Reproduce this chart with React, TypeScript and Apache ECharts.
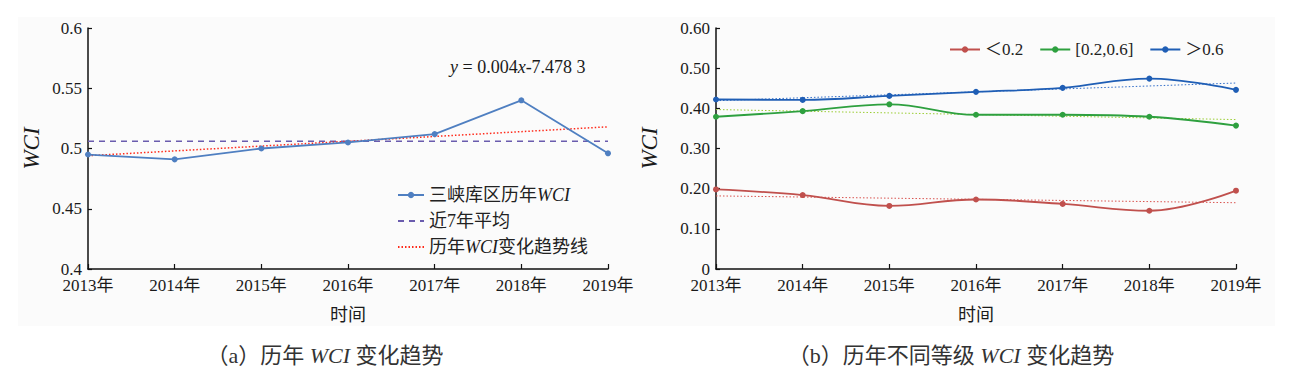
import React, { useEffect, useRef } from "react";
import * as echarts from "echarts";

const years = ["2013年", "2014年", "2015年", "2016年", "2017年", "2018年", "2019年"];

// (a) annual WCI
const wciAnnual = [0.495, 0.491, 0.5, 0.505, 0.512, 0.54, 0.496];
const wciAverage = [0.506, 0.506, 0.506, 0.506, 0.506, 0.506, 0.506];
const wciTrend = [0.494, null, null, null, null, null, 0.518];

// (b) WCI by grade
const lowValues = [0.198, 0.184, 0.157, 0.173, 0.162, 0.145, 0.195];
const midValues = [0.379, 0.393, 0.41, 0.384, 0.384, 0.379, 0.357];
const highValues = [0.422, 0.421, 0.431, 0.441, 0.451, 0.474, 0.446];
const lowTrend = [0.182, null, null, null, null, null, 0.165];
const midTrend = [0.397, null, null, null, null, null, 0.372];
const highTrend = [0.419, null, null, null, null, null, 0.463];

const namesA = ["三峡库区历年WCI", "近7年平均", "历年WCI变化趋势线"];
const namesB = ["＜0.2", "[0.2,0.6]", "＞0.6"];

const FONT = "'Liberation Serif', 'Noto Sans CJK SC', serif";
const TXT = "#1a1a1a";

export default function App() {
  const ref = useRef<HTMLDivElement>(null);
  useEffect(() => {
    if (!ref.current) return;
    const chart = echarts.init(ref.current, undefined, { renderer: "svg" });
    const italic = { fontStyle: "italic", fontFamily: FONT, color: TXT };
    const xAxisBase = (gridIndex: number) => ({
      type: "category",
      gridIndex,
      data: years,
      boundaryGap: false,
      name: "时间",
      nameLocation: "middle",
      nameGap: 37,
      nameTextStyle: { fontSize: 18, fontFamily: FONT, color: TXT },
      axisLine: { lineStyle: { color: "#111", width: 1.5 } },
      axisTick: { inside: true, length: 5, lineStyle: { color: "#111", width: 1.2 } },
      axisLabel: { fontSize: 17, fontFamily: FONT, color: TXT, margin: 8 },
      splitLine: { show: false },
    });
    const yAxisBase = (gridIndex: number) => ({
      type: "value",
      gridIndex,
      name: "WCI",
      nameLocation: "middle",
      nameTextStyle: { fontSize: 23, fontStyle: "italic", fontFamily: FONT, color: TXT },
      axisLine: { show: true, lineStyle: { color: "#111", width: 1.5 } },
      axisTick: { show: true, inside: true, length: 4, lineStyle: { color: "#111", width: 1.2 } },
      splitLine: { show: false },
    });
    const noSym = { itemStyle: { opacity: 0 } };
    chart.setOption({
      animation: false,
      backgroundColor: "#ffffff",
      textStyle: { fontFamily: FONT },
      graphic: [
        {
          type: "rect",
          z: -100,
          silent: true,
          shape: { x: 10, y: 9, width: 1257, height: 309 },
          style: { fill: "#fbfbfb" },
        },
        {
          type: "text",
          x: 442,
          y: 59,
          style: {
            text: "{i|y} = 0.004{i|x}-7.478 3",
            fontSize: 18,
            fontFamily: FONT,
            fill: TXT,
            verticalAlign: "middle",
            rich: { i: { fontStyle: "italic", fontSize: 18, fontFamily: FONT } },
          },
        },
        {
          type: "text",
          x: 317,
          y: 347,
          style: {
            text: "（a）历年 {i|WCI} 变化趋势",
            fontSize: 22,
            fontFamily: FONT,
            fill: "#333",
            align: "center",
            verticalAlign: "middle",
            rich: { i: { fontStyle: "italic", fontSize: 22, fontFamily: FONT } },
          },
        },
        {
          type: "text",
          x: 943,
          y: 347,
          style: {
            text: "（b）历年不同等级 {i|WCI} 变化趋势",
            fontSize: 22,
            fontFamily: FONT,
            fill: "#333",
            align: "center",
            verticalAlign: "middle",
            rich: { i: { fontStyle: "italic", fontSize: 22, fontFamily: FONT } },
          },
        },
      ],
      legend: [
        {
          data: [{ name: namesA[0] }, { name: namesA[1], ...noSym }, { name: namesA[2], ...noSym }],
          orient: "vertical",
          left: 384,
          top: 173,
          itemWidth: 26,
          itemHeight: 8,
          itemGap: 8,
          formatter: (n: string) => n.replace("WCI", "{i|WCI}"),
          textStyle: {
            fontSize: 18,
            fontFamily: FONT,
            color: "#222",
            rich: { i: { ...italic, fontSize: 18 } },
          },
        },
        {
          data: namesB,
          orient: "horizontal",
          left: 936,
          top: 28,
          itemWidth: 30,
          itemHeight: 8,
          itemGap: 16,
          textStyle: { fontSize: 17, fontFamily: FONT, color: "#222" },
        },
      ],
      grid: [
        { left: 80, top: 20, width: 520, height: 241 },
        { left: 708, top: 20, width: 520, height: 241 },
      ],
      xAxis: [xAxisBase(0), xAxisBase(1)],
      yAxis: [
        {
          ...yAxisBase(0),
          min: 0.4,
          max: 0.6,
          interval: 0.05,
          nameGap: 45,
          axisLabel: {
            fontSize: 17,
            fontFamily: FONT,
            color: TXT,
            margin: 6,
            formatter: (v: number) => String(+v.toFixed(2)),
          },
        },
        {
          ...yAxisBase(1),
          min: 0,
          max: 0.6,
          interval: 0.1,
          nameGap: 55,
          axisLabel: {
            fontSize: 17,
            fontFamily: FONT,
            color: TXT,
            margin: 6,
            formatter: (v: number) => (v === 0 ? "0" : v.toFixed(2)),
          },
        },
      ],
      series: [
        {
          name: namesA[0],
          type: "line",
          xAxisIndex: 0,
          yAxisIndex: 0,
          data: wciAnnual,
          symbol: "circle",
          symbolSize: 6,
          color: "#4f7fc1",
          lineStyle: { width: 1.8, color: "#4f7fc1" },
          z: 5,
        },
        {
          name: namesA[1],
          type: "line",
          xAxisIndex: 0,
          yAxisIndex: 0,
          data: wciAverage,
          symbol: "none",
          color: "#6a5cae",
          lineStyle: { width: 1.5, type: [6, 5], color: "#6a5cae" },
          z: 3,
        },
        {
          name: namesA[2],
          type: "line",
          xAxisIndex: 0,
          yAxisIndex: 0,
          data: wciTrend,
          connectNulls: true,
          symbol: "none",
          color: "#ff2a1a",
          lineStyle: { width: 1.5, type: [1.5, 2], color: "#ff2a1a" },
          z: 4,
        },
        {
          name: namesB[0],
          type: "line",
          xAxisIndex: 1,
          yAxisIndex: 1,
          data: lowValues,
          smooth: 0.4,
          symbol: "circle",
          symbolSize: 6,
          color: "#c0504d",
          lineStyle: { width: 1.8, color: "#c0504d" },
          z: 5,
        },
        {
          name: namesB[1],
          type: "line",
          xAxisIndex: 1,
          yAxisIndex: 1,
          data: midValues,
          smooth: 0.4,
          symbol: "circle",
          symbolSize: 6,
          color: "#2ea03f",
          lineStyle: { width: 1.8, color: "#2ea03f" },
          z: 5,
        },
        {
          name: namesB[2],
          type: "line",
          xAxisIndex: 1,
          yAxisIndex: 1,
          data: highValues,
          smooth: 0.4,
          symbol: "circle",
          symbolSize: 6,
          color: "#1f5eb5",
          lineStyle: { width: 1.8, color: "#1f5eb5" },
          z: 5,
        },
        {
          name: "lowTrend",
          type: "line",
          xAxisIndex: 1,
          yAxisIndex: 1,
          data: lowTrend,
          connectNulls: true,
          symbol: "none",
          lineStyle: { width: 1, type: [1.5, 2], color: "#d9534f" },
          z: 4,
        },
        {
          name: "midTrend",
          type: "line",
          xAxisIndex: 1,
          yAxisIndex: 1,
          data: midTrend,
          connectNulls: true,
          symbol: "none",
          lineStyle: { width: 1, type: [1.5, 2], color: "#9acd32" },
          z: 4,
        },
        {
          name: "highTrend",
          type: "line",
          xAxisIndex: 1,
          yAxisIndex: 1,
          data: highTrend,
          connectNulls: true,
          symbol: "none",
          lineStyle: { width: 1, type: [1.5, 2], color: "#2f6cc8" },
          z: 4,
        },
      ],
    });
    return () => chart.dispose();
  }, []);
  return <div ref={ref} style={{ width: 1277, height: 358 }} />;
}
